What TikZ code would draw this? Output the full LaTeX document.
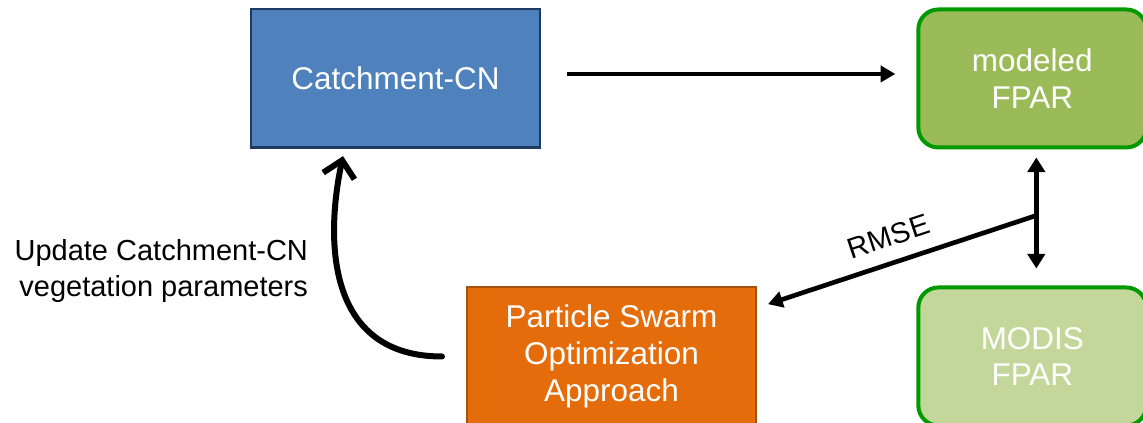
\documentclass[tikz,border=0pt]{standalone}
\usepackage{fontspec}
\setmainfont{Liberation Sans}
\usepackage{xcolor}
\usepackage{tikz}
\usetikzlibrary{arrows.meta, positioning, calc}
\definecolor{cnblue}{HTML}{4F81BD}
\definecolor{cnnavy}{HTML}{1F3A60}
\definecolor{fparg}{HTML}{9BBB59}
\definecolor{modisg}{HTML}{C4D79B}
\definecolor{edgeg}{HTML}{009A00}
\definecolor{psoor}{HTML}{E46C0A}
\definecolor{psoedge}{HTML}{A5520F}
\newcommand{\boxfont}{\fontsize{23.6}{27.6}\selectfont}
\newcommand{\lblfont}{\fontsize{21.75}{27}\selectfont}
\tikzset{
  bbox/.style={rectangle,draw=cnnavy,fill=cnblue,line width=2pt,minimum width=216.75pt,minimum height=104pt,text=white,align=center,font=\boxfont},
  obox/.style={rectangle,draw=psoedge,fill=psoor,line width=1.5pt,minimum width=216.75pt,minimum height=104pt,text=white,align=center,font=\boxfont},
  gbox/.style={rectangle,rounded corners=15pt,draw=edgeg,fill=fparg,line width=3pt,minimum width=171pt,minimum height=103.5pt,text=white,align=center,font=\boxfont},
  lgbox/.style={gbox,fill=modisg},
  lbl/.style={align=right,font=\lblfont},
  arr/.style={-{Triangle[length=11pt,width=12pt]},line width=3.5pt},
  dbl/.style={{Triangle[length=11pt,width=13pt]}-{Triangle[length=11pt,width=13pt]},line width=3.5pt},
  barb/.style={-{Straight Barb[length=12pt,width=24pt]},line width=4.5pt,line cap=round}
}
\begin{document}
\begin{tikzpicture}[x=0.75pt,y=-0.75pt]
  \useasboundingbox (0,0) rectangle (1143,423);

  \node[bbox] (catch) at (395.5,78.5) {Catchment-CN};
  \node[gbox, right=281.25pt of catch] (modeled) {modeled\\FPAR};
  \node[lgbox, below=102pt of modeled] (modis) {MODIS\\FPAR};
  \node[obox, below=102.75pt of catch, xshift=162pt] (pso) {Particle Swarm\\Optimization\\Approach};

  \node[lbl, anchor=east] (upd) at ([shift={(63,122)}]catch.south west)
    {Update Catchment-CN\\vegetation parameters};

  \coordinate (junc) at ([shift={(4,66)}]modeled.south);

  \draw[arr, shorten <=19.5pt, shorten >=15.75pt] ([yshift=3.4pt]catch.east) -- ([yshift=3.4pt]catch.east -| modeled.west);
  \draw[dbl] ([shift={(4,8)}]modeled.south) -- ([shift={(4,-17)}]modis.north);
  \draw[arr] (junc) -- node[pos=0.52, sloped, above=7pt, font=\lblfont] {RMSE} ([shift={(11,18)}]pso.north east);
  \draw[barb] ([xshift=-18pt]pso.west) .. controls +(-115,0) and +(-18,85) .. ([shift={(-52.5,7)}]catch.south);
\end{tikzpicture}
\end{document}
